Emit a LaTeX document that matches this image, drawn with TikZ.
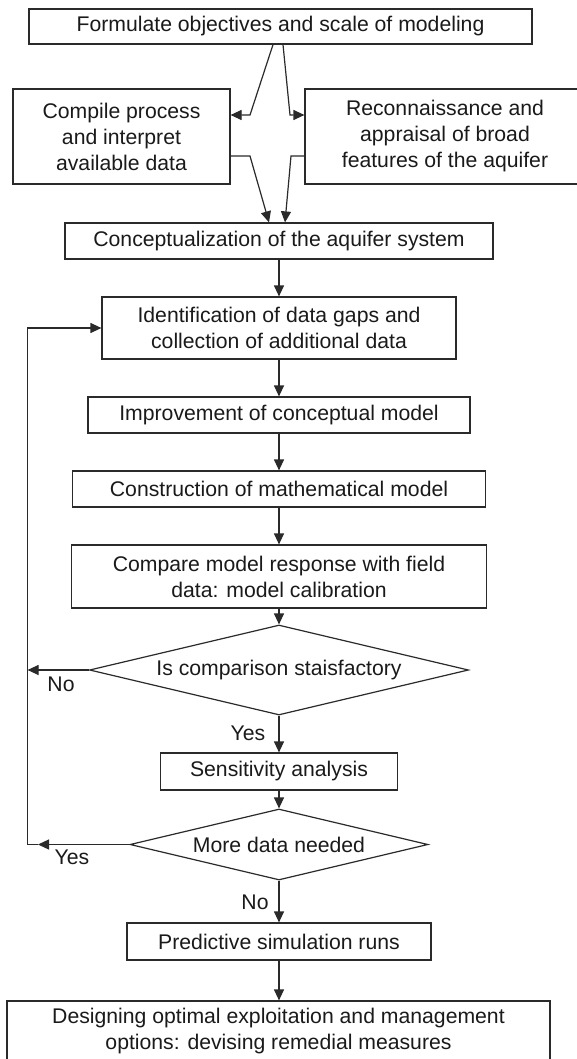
\documentclass[tikz,border=0pt]{standalone}
\usepackage{fontspec}
\setmainfont{Liberation Sans}
\usetikzlibrary{shapes.geometric,arrows.meta}
\definecolor{ln}{HTML}{2A2A2A}
\definecolor{txt}{HTML}{1A1A1A}
\tikzset{
  box/.style={draw=ln, line width=1.2pt, rectangle, inner sep=0pt, align=center,
    font=\fontsize{21.2}{26}\selectfont, text=txt},
  dia/.style={draw=ln, line width=1.2pt, diamond, aspect=4.2, inner sep=0pt,
    font=\fontsize{21.2}{26}\selectfont, text=txt},
  arr/.style={draw=ln, line width=1.2pt, -{Triangle[length=11pt,width=10pt]}},
  lbl/.style={inner sep=0pt, font=\fontsize{21.2}{26}\selectfont, text=txt}
}
\begin{document}
\begin{tikzpicture}[x=1pt,y=-1pt]
\useasboundingbox (0,0) rectangle (577,1059);
\clip (0,0) rectangle (577,1059);
\fill[white] (0,0) rectangle (577,1059);

\node[box, minimum width=503pt, minimum height=35pt] (fo) at (280.5,26.5) {Formulate objectives and scale of modeling};
\node[box, minimum width=217pt, minimum height=95pt] (cp) at (121.5,136.5) {Compile process\\and interpret\\available data};
\node[box, minimum width=280pt, minimum height=95pt] (re) at (445,136.5) {Reconnaissance and\\appraisal of broad\\features of the aquifer};
\node[box, minimum width=428pt, minimum height=36pt] (cz) at (279,241) {Conceptualization of the aquifer system};
\node[box, minimum width=354pt, minimum height=62pt] (id) at (279,328) {Identification of data gaps and\\collection of additional data};
\node[box, minimum width=382pt, minimum height=36pt] (im) at (279,415) {Improvement of conceptual model};
\node[box, minimum width=413.5pt, minimum height=36pt] (cm) at (279,489) {Construction of mathematical model};
\node[box, minimum width=415.5pt, minimum height=63pt] (cc) at (279,576.5) {Compare model response with field\\data: model calibration};
\node[dia, minimum width=379pt, minimum height=90pt] (d1) at (279,670) {Is comparison staisfactory};
\node[box, minimum width=236.5pt, minimum height=37pt] (sa) at (279,771.5) {Sensitivity analysis};
\node[dia, minimum width=298pt, minimum height=71pt] (d2) at (279,844.5) {More data needed};
\node[box, minimum width=304pt, minimum height=37pt] (ps) at (279,941.5) {Predictive simulation runs};
\node[box, minimum width=543pt, minimum height=61pt] (dg) at (278.5,1031.5) {Designing optimal exploitation and management\\options: devising remedial measures};

\node[lbl] (no1) at (61,684) {No};
\node[lbl] (ye1) at (248,733) {Yes};
\node[lbl] (ye2) at (72,857) {Yes};
\node[lbl] (no2) at (255,902) {No};

% kink coordinates
\coordinate (t1) at (273,44);
\coordinate (k1) at (250,115);
\coordinate (t2) at (283,44);
\coordinate (k2) at (290,115);
\coordinate (b1) at (250,156);
\coordinate (e1) at (269,223);
\coordinate (b2) at (291,156);
\coordinate (e2) at (285,223);
\coordinate (lp) at (27.6,0);
\coordinate (yt) at (38,0);

\draw[arr] (fo.south -| t1) -- (k1) -- (k1 -| cp.east);
\draw[arr] (fo.south -| t2) -- (k2) -- (k2 -| re.west);
\draw[arr] (cp.east |- b1) -- (b1) -- (e1 |- cz.north);
\draw[arr] (re.west |- b2) -- (b2) -- (e2 |- cz.north);

\draw[arr] (cz.south) -- (id.north);
\draw[arr] (id.south) -- (im.north);
\draw[arr] (im.south) -- (cm.north);
\draw[arr] (cm.south) -- (cc.north);
\draw[arr] (cc.south) -- (d1.north);
\draw[arr] (d1.south) -- (sa.north);
\draw[arr] (sa.south) -- (d2.north);
\draw[arr] (d2.south) -- (ps.north);
\draw[arr] (ps.south) -- (ps.south |- dg.north);

\draw[arr] (d1.west) -- (lp |- d1.west);
\draw[arr] (d2.west) -- (yt |- d2.west);
\draw[arr] (yt |- d2.west) -- (lp |- d2.west) |- (id.west);
\end{tikzpicture}
\end{document}
